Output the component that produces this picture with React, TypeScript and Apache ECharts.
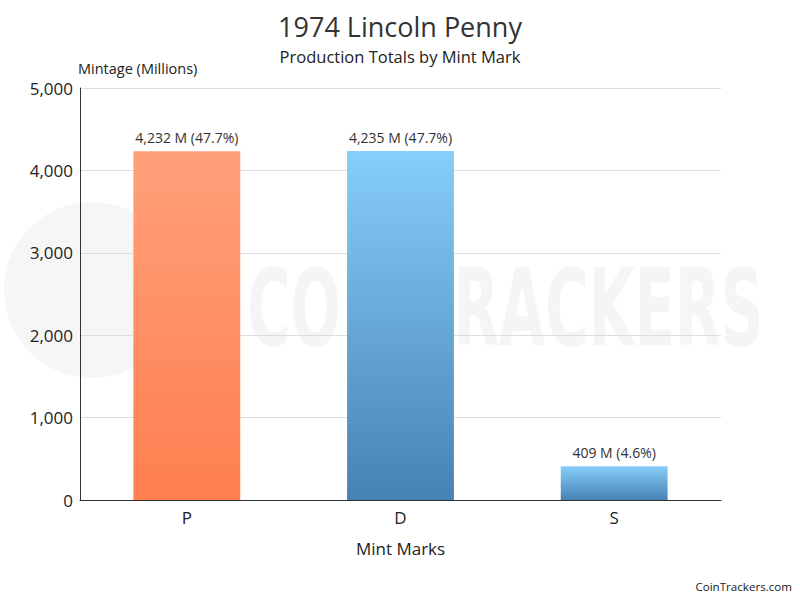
import React, { useEffect, useRef } from "react";
import * as echarts from "echarts";

const categories = ["P", "D", "S"];
const mintage = [4232, 4235, 409];
const yTicks = [0, 1000, 2000, 3000, 4000, 5000];

const FONT = "'Open Sans', 'Noto Sans', sans-serif";

const gradients = [
  ["#FFA07A", "#FF7F50"],
  ["#87CEFA", "#4682B4"],
  ["#87CEFA", "#4682B4"],
];

export default function App() {
  const ref = useRef<HTMLDivElement>(null);
  useEffect(() => {
    if (!ref.current) return;
    const chart = echarts.init(ref.current, undefined, { renderer: "svg" });
    const total = mintage.reduce((a, b) => a + b, 0);
    chart.setOption({
      animation: false,
      backgroundColor: "#ffffff",
      textStyle: { fontFamily: FONT },
      title: {
        text: "1974 Lincoln Penny",
        subtext: "Production Totals by Mint Mark",
        left: "center",
        top: 8,
        itemGap: 8,
        textStyle: { fontFamily: FONT, fontSize: 27, fontWeight: "normal", color: "#333" },
        subtextStyle: { fontFamily: FONT, fontSize: 16.5, color: "#222" },
      },
      graphic: [
        {
          type: "circle",
          silent: true,
          z: -10,
          shape: { cx: 92, cy: 290, r: 88 },
          style: { fill: "#f6f6f6" },
        },
        {
          type: "text",
          silent: true,
          z: -10,
          x: 247,
          y: 255,
          scaleX: 0.56,
          style: {
            text: "COINTRACKERS",
            fontFamily: "'DejaVu Sans', sans-serif",
            fontWeight: "bold",
            fontSize: 106,
            fill: "#f4f5f6",
            verticalAlign: "top",
          },
        },
        {
          type: "text",
          right: 8,
          bottom: 8,
          style: { text: "CoinTrackers.com", fontFamily: FONT, fontSize: 11.6, fill: "#222" },
        },
      ],
      grid: { left: 80, right: 79, top: 88, bottom: 100, containLabel: false },
      xAxis: {
        type: "category",
        data: categories,
        name: "Mint Marks",
        nameLocation: "middle",
        nameGap: 40,
        nameTextStyle: { fontFamily: FONT, fontSize: 17, color: "#222" },
        axisLine: { lineStyle: { color: "#333", width: 1 } },
        axisTick: { show: false },
        axisLabel: { fontFamily: FONT, fontSize: 17, color: "#222", margin: 9 },
      },
      yAxis: {
        type: "value",
        min: yTicks[0],
        max: yTicks[yTicks.length - 1],
        interval: 1000,
        name: "Mintage (Millions)",
        nameLocation: "end",
        nameGap: 12,
        nameTextStyle: { fontFamily: FONT, fontSize: 14.5, color: "#222", align: "left", padding: [0, 0, 0, -2] },
        axisLine: { show: true, lineStyle: { color: "#333", width: 1 } },
        axisTick: { show: false },
        axisLabel: {
          fontFamily: FONT,
          fontSize: 17,
          color: "#222",
          margin: 7,
          formatter: (v: number) => v.toLocaleString("en-US"),
        },
        splitLine: { lineStyle: { color: "#dddddd" } },
      },
      series: [
        {
          type: "bar",
          barWidth: "50%",
          data: mintage.map((v, i) => ({
            value: v,
            itemStyle: {
              color: new echarts.graphic.LinearGradient(0, 0, 0, 1, [
                { offset: 0, color: gradients[i][0] },
                { offset: 1, color: gradients[i][1] },
              ]),
            },
          })),
          label: {
            show: true,
            position: "top",
            distance: 7,
            fontFamily: FONT,
            fontSize: 14,
            color: "#333",
            formatter: (p: any) =>
              `${p.value.toLocaleString("en-US")} M (${((p.value / total) * 100).toFixed(1)}%)`,
          },
        },
      ],
    });
    return () => chart.dispose();
  }, []);
  return <div ref={ref} style={{ width: 800, height: 600, position: "absolute", left: 0, top: 0 }} />;
}
